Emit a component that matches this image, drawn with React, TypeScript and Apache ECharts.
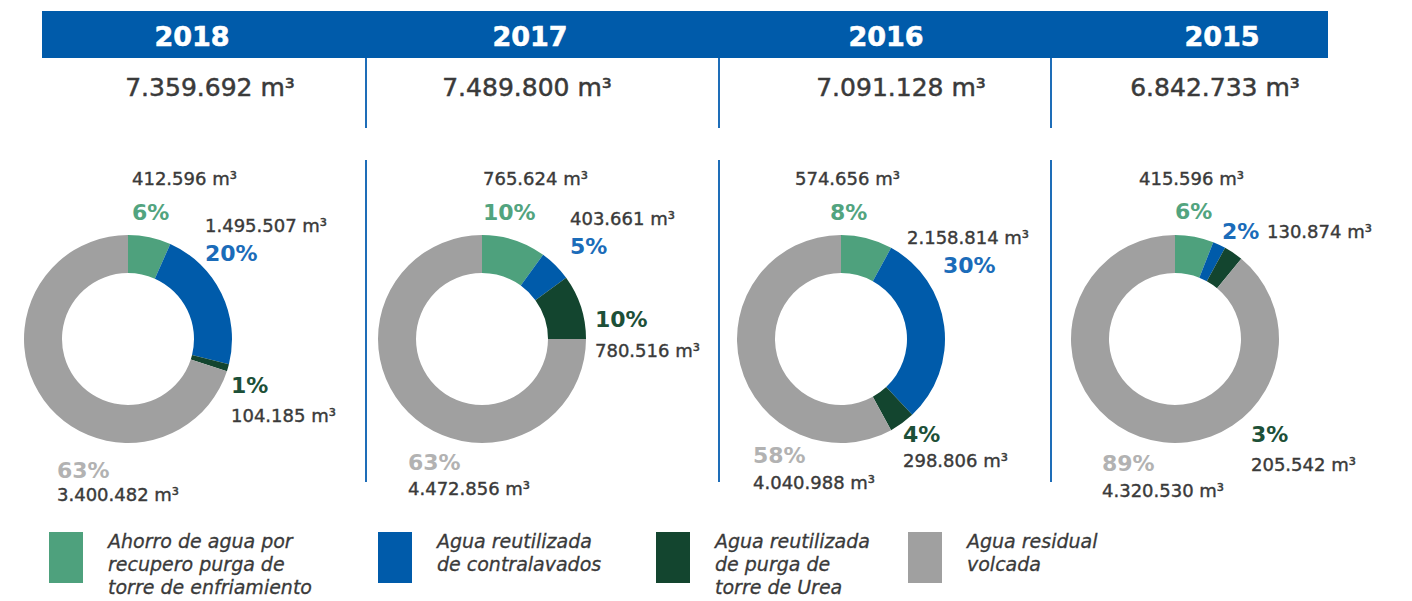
import React, { useEffect, useRef } from "react";
import * as echarts from "echarts";

// ---------- data ----------
const years = ["2018", "2017", "2016", "2015"];
const totals = ["7.359.692", "7.489.800", "7.091.128", "6.842.733"];
const categories = [
  "Ahorro de agua por\nrecupero purga de\ntorre de enfriamiento",
  "Agua reutilizada\nde contralavados",
  "Agua reutilizada\nde purga de\ntorre de Urea",
  "Agua residual\nvolcada",
];
// volumes (m³) per category, per year
const vol2018 = ["412.596", "1.495.507", "104.185", "3.400.482"];
const vol2017 = ["765.624", "403.661", "780.516", "4.472.856"];
const vol2016 = ["574.656", "2.158.814", "298.806", "4.040.988"];
const vol2015 = ["415.596", "130.874", "205.542", "4.320.530"];
// printed percentages
const pct2018 = [6, 20, 1, 63];
const pct2017 = [10, 5, 10, 63];
const pct2016 = [8, 30, 4, 58];
const pct2015 = [6, 2, 3, 89];
// arc shares as drawn in the donuts
const arc2018 = [6, 20, 1, 63];
const arc2017 = [10, 5, 10, 75];
const arc2016 = [8, 30, 4, 58];
const arc2015 = [6, 2, 3, 89];

// ---------- styles / layout ----------
const sliceColors = ["#4EA17D", "#005BAA", "#13452F", "#A0A0A0"];
const pctColors = ["#52A47F", "#1B6CB9", "#1D5038", "#B2B2B2"];
const textColor = "#3A3A3A";
const FONT = "'DejaVu Sans', Verdana, sans-serif";

const centersX = [128, 482, 841, 1175];
const centerY = 339;
const yearX = [192, 530, 886, 1222];
const totalX = [210, 527, 901, 1215];
const sepX = [366, 719, 1051];

type LP = { px: number; py: number; vx: number; vy: number };
const labelPos: LP[][] = [
  [
    { px: 132, py: 212, vx: 132, vy: 178 },
    { px: 205, py: 253, vx: 205, vy: 225 },
    { px: 231, py: 385, vx: 231, vy: 415 },
    { px: 57, py: 470, vx: 57, vy: 494 },
  ],
  [
    { px: 483, py: 212, vx: 483, vy: 178 },
    { px: 570, py: 246, vx: 570, vy: 218 },
    { px: 595, py: 319, vx: 595, vy: 350 },
    { px: 408, py: 462, vx: 408, vy: 488 },
  ],
  [
    { px: 830, py: 212, vx: 795, vy: 178 },
    { px: 943, py: 265, vx: 907, vy: 237 },
    { px: 903, py: 434, vx: 903, vy: 460 },
    { px: 753, py: 455, vx: 753, vy: 482 },
  ],
  [
    { px: 1175, py: 211, vx: 1139, vy: 178 },
    { px: 1222, py: 231, vx: 1267, vy: 231 },
    { px: 1251, py: 434, vx: 1251, vy: 464 },
    { px: 1102, py: 463, vx: 1102, vy: 490 },
  ],
];
const legendX = [49, 378, 656, 908];

export default function App() {
  const ref = useRef<HTMLDivElement>(null);
  useEffect(() => {
    if (!ref.current) return;
    const chart = echarts.init(ref.current, null, { renderer: "svg" });
    const vols = [vol2018, vol2017, vol2016, vol2015];
    const pcts = [pct2018, pct2017, pct2016, pct2015];
    const arcs = [arc2018, arc2017, arc2016, arc2015];

    const series = arcs.map((arr, yi) => ({
      type: "pie",
      name: years[yi],
      center: [centersX[yi], centerY],
      radius: [66, 104],
      startAngle: 90,
      clockwise: true,
      silent: true,
      label: { show: false },
      labelLine: { show: false },
      itemStyle: { borderWidth: 0 },
      data: arr.map((v, ci) => ({
        name: categories[ci],
        value: v,
        itemStyle: { color: sliceColors[ci] },
      })),
    }));

    const graphics: any[] = [];
    graphics.push({
      type: "rect",
      shape: { x: 42, y: 11, width: 1286, height: 47 },
      style: { fill: "#005BAA" },
    });
    years.forEach((y, i) => {
      graphics.push({
        type: "text",
        x: yearX[i],
        y: 36,
        style: {
          text: y,
          fill: "#fff",
          stroke: "#fff",
          lineWidth: 0.6,
          font: `bold 27px ${FONT}`,
          align: "center",
          verticalAlign: "middle",
        },
      });
      graphics.push({
        type: "text",
        x: totalX[i],
        y: 87,
        style: {
          text: totals[i] + " m³",
          fill: textColor,
          stroke: textColor,
          lineWidth: 0.5,
          font: `normal 25px ${FONT}`,
          align: "center",
          verticalAlign: "middle",
        },
      });
    });
    sepX.forEach((x) => {
      graphics.push({
        type: "line",
        shape: { x1: x, y1: 58, x2: x, y2: 128 },
        style: { stroke: "#1E6DB8", lineWidth: 2 },
      });
      graphics.push({
        type: "line",
        shape: { x1: x, y1: 160, x2: x, y2: 482 },
        style: { stroke: "#1E6DB8", lineWidth: 2 },
      });
    });
    labelPos.forEach((row, yi) => {
      row.forEach((p, ci) => {
        graphics.push({
          type: "text",
          x: p.px,
          y: p.py,
          style: {
            text: pcts[yi][ci] + "%",
            fill: pctColors[ci],
            font: `bold 22px ${FONT}`,
            align: "left",
            verticalAlign: "middle",
          },
        });
        graphics.push({
          type: "text",
          x: p.vx,
          y: p.vy,
          style: {
            text: vols[yi][ci] + " m³",
            fill: textColor,
            stroke: textColor,
            lineWidth: 0.4,
            font: `normal 18px ${FONT}`,
            align: "left",
            verticalAlign: "middle",
          },
        });
      });
    });
    categories.forEach((c, i) => {
      graphics.push({
        type: "rect",
        shape: { x: legendX[i], y: 532, width: 34, height: 51 },
        style: { fill: sliceColors[i] },
      });
      graphics.push({
        type: "text",
        x: legendX[i] + 59,
        y: 529,
        style: {
          text: c,
          fill: textColor,
          stroke: textColor,
          lineWidth: 0.3,
          font: `italic normal 19px ${FONT}`,
          lineHeight: 23,
          align: "left",
          verticalAlign: "top",
        },
      });
    });

    chart.setOption({
      animation: false,
      backgroundColor: "#ffffff",
      series,
      graphic: graphics,
    });
    return () => chart.dispose();
  }, []);
  return (
    <div
      ref={ref}
      style={{ position: "fixed", left: 0, top: 0, width: 1412, height: 601 }}
    />
  );
}
